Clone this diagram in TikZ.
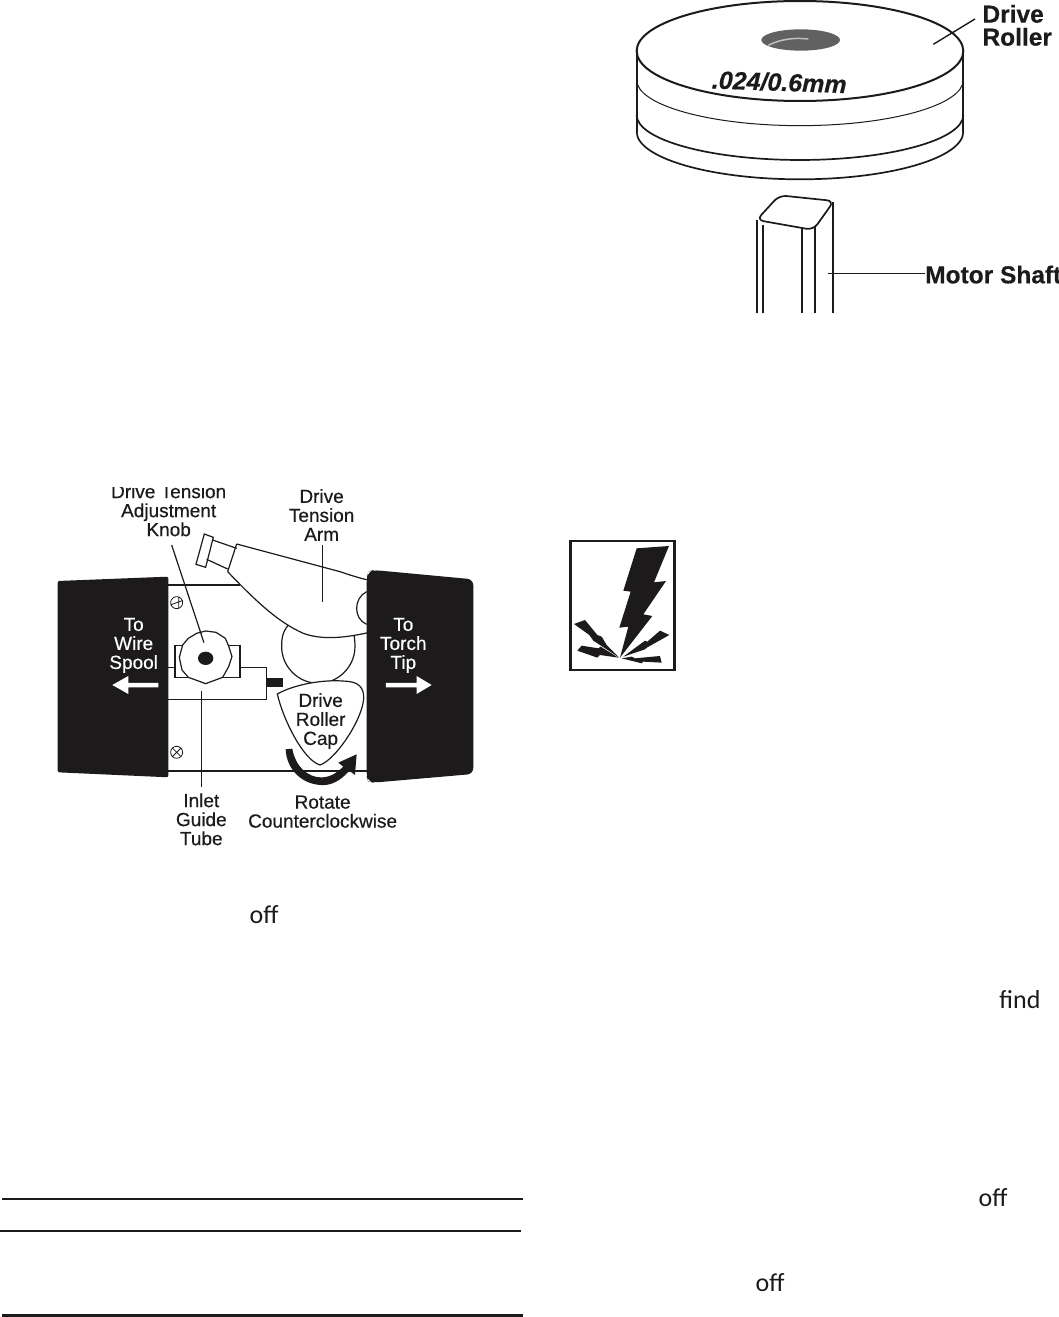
\documentclass[tikz,border=0pt]{standalone}
\usepackage{fontspec}
\setmainfont{Liberation Sans}
\newfontfamily\bodyfont{Carlito}
\newfontfamily\labelfont[FakeBold=0.4]{Liberation Sans}
\newfontfamily\strongfont[FakeBold=0.4]{Liberation Sans Bold}
\newfontfamily\sizefont[FakeBold=0.4]{Liberation Sans Bold Italic}
\definecolor{ink}{HTML}{1C1A1A}
\newcommand{\rollerarc}[3][]{\draw[rollerline,#1] (50,#2) .. controls (50,#2+.55*#3) and (270,#2+#3) .. (540,#2+#3) .. controls (810,#2+#3) and (1030,#2+.55*#3) .. (1030,#2);}
\tikzset{
  rollerline/.style={draw=ink,line width=1.7pt},
  mechline/.style={draw=ink,line width=1.2pt},
  leaderline/.style={draw=ink,line width=1.2pt},
  rulelabel/.style={text=ink,font=\labelfont\fontsize{19}{19}\selectfont,align=center,inner sep=0pt},
  whitelabel/.style={rulelabel,text=white},
  boldlabel/.style={text=ink,font=\strongfont\fontsize{24.5}{23}\selectfont,align=left,inner sep=0pt},
  bodyword/.style={text=ink,font=\bodyfont\fontsize{26}{26}\selectfont,inner sep=0pt},
  rulebar/.style={draw=ink,line width=2pt},
}
\begin{document}
\begin{tikzpicture}[x=1pt,y=-1pt]
\useasboundingbox (0,0) rectangle (1059,1317);
\fill[white] (0,0) rectangle (1059,1317);

% ---- Roller and shaft (zoom coordinates, origin 620,0)
\begin{scope}[shift={(620pt,0pt)},x=.3333pt,y=-.3333pt]
  \draw[rollerline,line width=2pt] (540,153) ellipse [x radius=490,y radius=150];
  \draw[rollerline] (50,153) -- (50,395);
  \draw[rollerline] (1030,153) -- (1030,395);
  \rollerarc[line width=1pt]{240}{137}
  \rollerarc{345}{135}
  \rollerarc{395}{143}
  \fill[black!62] (542,120) ellipse [x radius=118,y radius=32];
  \draw[black!25,line width=1.5pt] (445,136) .. controls (480,118) and (520,112) .. (565,117);
  \node[text=ink,font=\sizefont\fontsize{25}{25}\selectfont,inner sep=0pt,rotate=-2] (size) at (478,246) {.024/0.6mm};
  \node[boldlabel,anchor=west] (driveroller) at (1087,76) {Drive\\Roller};
  \coordinate (rollerpt) at (940,133);
  \draw[leaderline,line width=1.4pt] (driveroller.west |- 0,57) ++(-22,0) coordinate (rollerend) -- (rollerpt);
  % shaft
  \draw[rollerline,rounded corners=7pt] (410,660) -- (478,586) -- (642,603) -- (580,690) -- cycle;
  \draw[rollerline] (410,660) -- (410,938);
  \draw[rollerline] (430,675) -- (430,938);
  \draw[rollerline] (545,688) -- (545,938);
  \draw[rollerline] (585,682) -- (585,938);
  \draw[rollerline] (640,605) -- (640,938);
  \node[boldlabel,anchor=base west] (motorshaft) at (915,850) {Motor Shaft};
  \coordinate (shaftpt) at (623,820);
  \draw[leaderline,line width=1.4pt] (shaftpt) -- (motorshaft.west |- shaftpt);
\end{scope}

% ---- Warning icon (zoom coordinates, origin 560,530)
\begin{scope}[shift={(560pt,-530pt)},x=.3333pt,y=-.3333pt]
  \draw[draw=ink,line width=2.5pt] (31,33) rectangle (343,420);
  \fill[ink] (230,55) -- (327,48) -- (282,157) -- (318,153) -- (250,253) -- (277,258) -- (180,383) -- (205,290) -- (178,293) -- (212,185) -- (190,182) -- cycle;
  \fill[ink] (42,282) -- (75,270) -- (112,315) -- (125,320) -- (140,345) -- (178,383) -- (100,332) -- (88,315) -- cycle;
  \fill[ink] (52,362) -- (65,347) -- (115,355) -- (122,350) -- (175,383) -- (120,375) -- (112,383) -- cycle;
  \fill[ink] (328,315) -- (300,302) -- (262,335) -- (255,332) -- (190,380) -- (255,358) -- (262,352) -- cycle;
  \fill[ink] (185,385) -- (215,380) -- (225,385) -- (300,378) -- (305,398) -- (250,395) -- (245,400) -- cycle;
\end{scope}

% ---- Drive mechanism (zoom coordinates, origin 40,470)
\begin{scope}[shift={(40pt,-470pt)},x=.3333pt,y=-.3333pt]
  % frame
  \draw[mechline] (385,345) -- (600,345);
  \draw[mechline] (385,903) -- (985,903);
  % screws
  \node[circle,draw=ink,line width=.8pt,minimum size=12pt,inner sep=0pt] (screwa) at (410,398) {};
  \draw[draw=ink,line width=.8pt] (screwa.200) -- (screwa.20) (screwa.290) -- (screwa.70);
  \node[circle,draw=ink,line width=.8pt,minimum size=12pt,inner sep=0pt] (screwb) at (410,847) {};
  \draw[draw=ink,line width=.8pt] (screwb.45) -- (screwb.225) (screwb.135) -- (screwb.315);
  % inlet guide tube
  \draw[mechline] (385,592) -- (405,592);
  \draw[mechline] (405,527) rectangle (600,622);
  \draw[mechline] (600,592) -- (680,592) -- (680,688) -- (385,688);
  \fill[ink] (680,624) rectangle (730,652);
  % knob
  \draw[mechline,fill=white] (497,483) -- (528,487) -- (556,505) -- (566,528) -- (576,560) -- (566,590) -- (548,622) -- (497,641) -- (445,622) -- (426,600) -- (418,562) -- (428,525) -- (445,505) -- (470,490) -- cycle;
  \fill[ink] (497,565) ellipse [x radius=23,y radius=20];
  % drive roller
  \draw[mechline] (745,465) .. controls (725,490) and (725,510) .. (725,530) .. controls (725,590) and (775,640) .. (835,640) .. controls (895,640) and (945,590) .. (945,530) .. controls (945,518) and (944,505) .. (942,495);
  % tension arm
  \draw[mechline] (468,283) -- (493,192) -- (520,202) -- (497,292) -- cycle;
  \draw[mechline] (518,210) -- (590,235);
  \draw[mechline] (500,268) -- (563,297);
  \draw[mechline] (590,222) -- (563,305);
  \draw[mechline] (590,222) -- (900,305) .. controls (930,315) and (960,325) .. (985,330);
  \draw[mechline] (563,305) .. controls (640,385) and (710,455) .. (790,490) .. controls (850,512) and (920,502) .. (985,488);
  \draw[mechline] (980,365) .. controls (960,375) and (950,395) .. (950,415) .. controls (950,435) and (960,455) .. (980,463);
  % leaders
  \coordinate (knobpt) at (492,518);
  \coordinate (armpt) at (848,395);
  \coordinate (tubept) at (485,662);
  % cap
  \draw[mechline,fill=white] (712,672) .. controls (760,645) and (850,625) .. (930,635) .. controls (965,640) and (975,665) .. (970,695) .. controls (960,760) and (885,870) .. (840,885) .. controls (790,870) and (730,750) .. (712,672) -- cycle;
  % rotation arrow
  \fill[ink] (737,838) -- (757,836) .. controls (765,885) and (800,925) .. (850,922) .. controls (875,920) and (895,905) .. (910,890) -- (895,878) -- (950,853) -- (945,915) -- (928,902) .. controls (900,935) and (870,948) .. (840,945) .. controls (780,940) and (740,895) .. (737,838) -- cycle;
  % black end blocks
  \fill[ink,rounded corners=2pt] (53,333) -- (385,320) -- (385,922) -- (53,907) -- cycle;
  \fill[ink,rounded corners=6pt] (980,325) -- (985,305) -- (1000,300) -- (1300,328) -- (1300,912) -- (1000,938) -- (985,935) -- (980,920) -- cycle;
  % white arrows
  \fill[white] (355,639) -- (265,639) -- (265,618) -- (217,645) -- (265,672) -- (265,652) -- (355,652) -- cycle;
  \fill[white] (1038,639) -- (1130,639) -- (1130,618) -- (1175,645) -- (1130,672) -- (1130,652) -- (1038,652) -- cycle;
  % labels
  \node[whitelabel] (wire) at (281,526) {To\\Wire\\Spool};
  \node[whitelabel] (torch) at (1090,526) {To\\Torch\\Tip};
  \node[rulelabel] (cap) at (842,753) {Drive\\Roller\\Cap};
  \node[rulelabel] (arm) at (845,135) {Drive\\Tension\\Arm};
  \node[rulelabel] (knob) at (386,121) {Drive Tension\\Adjustment\\Knob};
  \node[rulelabel] (tube) at (484,1048) {Inlet\\Guide\\Tube};
  \node[rulelabel] (rotate) at (848,1025) {Rotate\\Counterclockwise};
  \fill[white] (200,30) rectangle (580,50);
  \draw[leaderline] (395,225) -- (knobpt);
  \draw[leaderline] (848,225) -- (armpt);
  \draw[leaderline] (tubept) -- (485,952);
\end{scope}

% ---- Stray words of the page
\node[bodyword] (offa) at (264,915) {off};
\node[bodyword] (offb) at (993,1198) {off};
\node[bodyword] (offc) at (770,1283) {off};
\node[bodyword] (find) at (1020,1000) {find};

% ---- Table rules
\draw[rulebar] (2,1199) -- (523,1199);
\draw[rulebar] (0,1231) -- (521,1231);
\draw[rulebar,line width=3pt] (2,1315) -- (523,1315);
\end{tikzpicture}
\end{document}
